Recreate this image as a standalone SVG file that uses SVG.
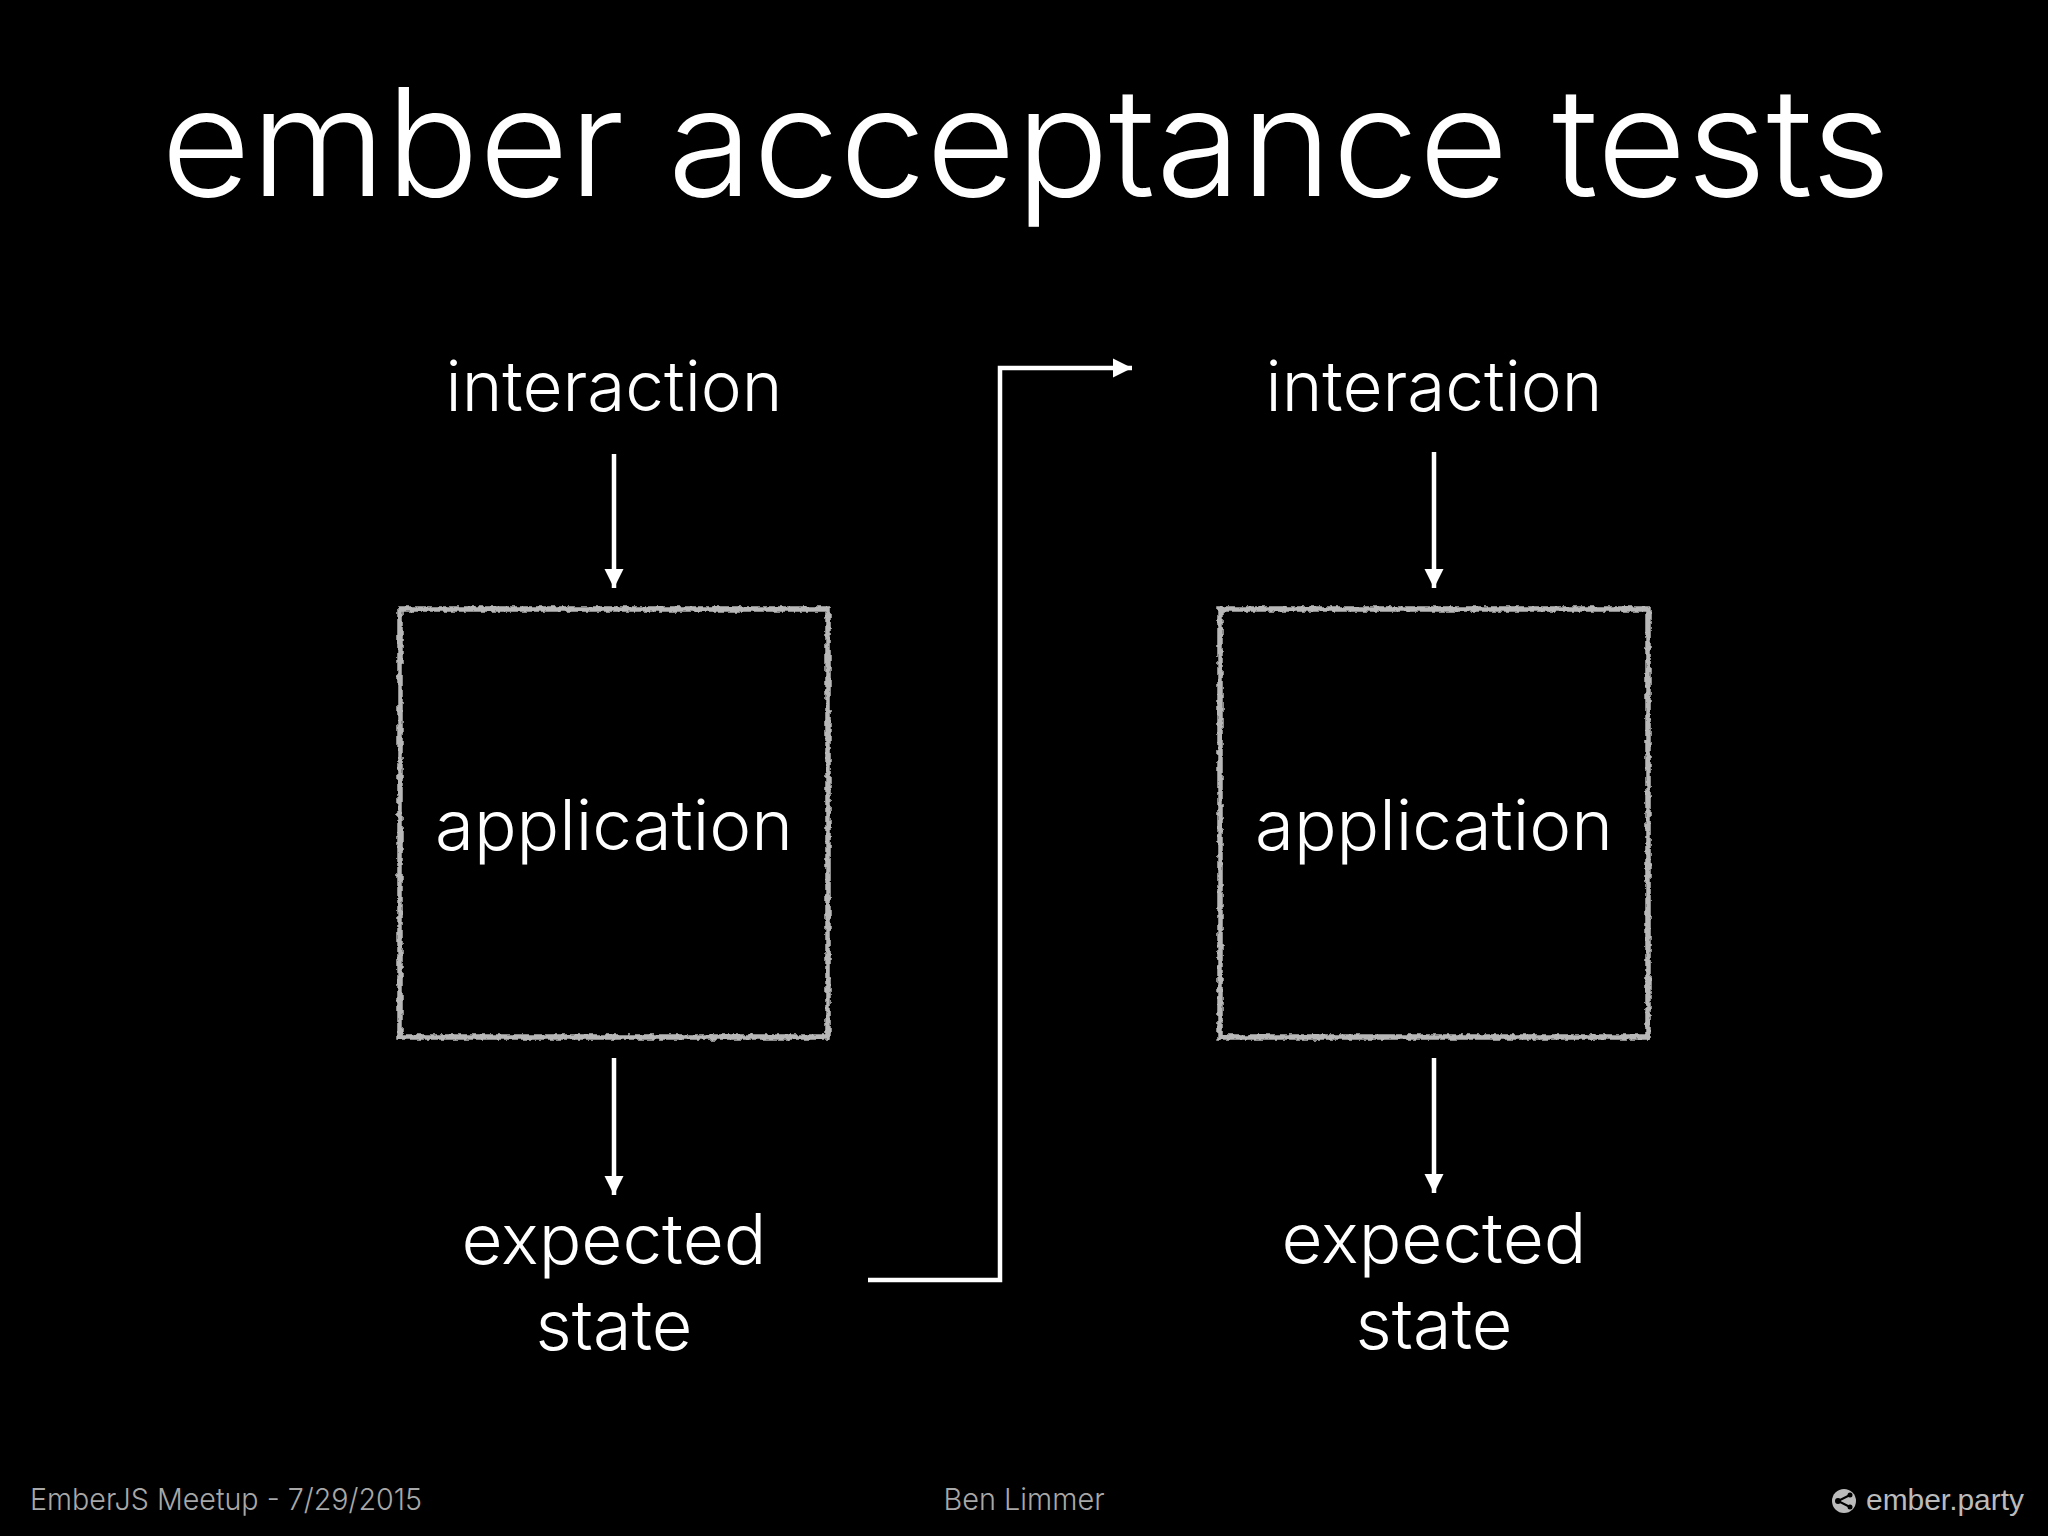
<svg xmlns="http://www.w3.org/2000/svg" width="2048" height="1536" viewBox="0 0 2048 1536">
<style>
text{font-family:"Inter","Liberation Sans",sans-serif;font-weight:300;fill:#fff;text-anchor:middle}
.l{font-size:70px}
.f{font-size:30px;fill:#a8a8a8}
.box{fill:none;stroke:#b8b8b8;stroke-width:5.5;filter:url(#rough)}
.c{fill:none;stroke:#fff;stroke-width:4.5}
</style>
<defs>
<filter id="rough" x="-5%" y="-5%" width="110%" height="110%"><feTurbulence type="fractalNoise" baseFrequency="0.18" numOctaves="2" seed="4"/><feDisplacementMap in="SourceGraphic" scale="5" xChannelSelector="R" yChannelSelector="G"/></filter>
<marker id="a" markerUnits="userSpaceOnUse" markerWidth="20" markerHeight="20" refX="19" refY="10" orient="auto"><path d="M0 0.5L19 10L0 19.5z" fill="#fff"/></marker>
</defs>
<rect width="2048" height="1536" fill="#000"/>
<g id="title"><text x="1026" y="196" font-size="150" textLength="1730" lengthAdjust="spacingAndGlyphs">ember acceptance tests</text></g>
<g id="connectors">
<path class="c" marker-end="url(#a)" d="M614 454V588"/>
<path class="c" marker-end="url(#a)" d="M614 1058V1195"/>
<path class="c" marker-end="url(#a)" d="M1434 452V588"/>
<path class="c" marker-end="url(#a)" d="M1434 1058V1193"/>
<path class="c" marker-end="url(#a)" d="M868 1280H1000V368H1132"/>
</g>
<g id="interaction-1"><text class="l" x="614" y="411" textLength="337" lengthAdjust="spacingAndGlyphs">interaction</text></g>
<g id="application-1"><rect class="box" x="400" y="609" width="428" height="428"/><text class="l" x="614" y="850" textLength="358" lengthAdjust="spacingAndGlyphs">application</text></g>
<g id="state-1"><text class="l" x="614" y="1264" textLength="305" lengthAdjust="spacingAndGlyphs">expected</text><text class="l" x="614" y="1350" textLength="157" lengthAdjust="spacingAndGlyphs">state</text></g>
<g id="interaction-2"><text class="l" x="1434" y="411" textLength="337" lengthAdjust="spacingAndGlyphs">interaction</text></g>
<g id="application-2"><rect class="box" x="1220" y="609" width="428" height="428"/><text class="l" x="1434" y="850" textLength="358" lengthAdjust="spacingAndGlyphs">application</text></g>
<g id="state-2"><text class="l" x="1434" y="1263" textLength="305" lengthAdjust="spacingAndGlyphs">expected</text><text class="l" x="1434" y="1349" textLength="157" lengthAdjust="spacingAndGlyphs">state</text></g>
<g id="footer">
<text class="f" x="30" y="1510" style="text-anchor:start" textLength="392" lengthAdjust="spacingAndGlyphs">EmberJS Meetup - 7/29/2015</text>
<text class="f" x="1024" y="1510" textLength="161" lengthAdjust="spacingAndGlyphs">Ben Limmer</text>
<text class="f" x="1866" y="1510" style="text-anchor:start;fill:#bbb;font-family:'Liberation Sans',sans-serif;font-weight:400" textLength="158" lengthAdjust="spacingAndGlyphs">ember.party</text>
<circle cx="1844" cy="1501" r="12" fill="#bbb"/>
<path d="M1850 1495L1838 1501L1850 1507" fill="none" stroke="#000" stroke-width="2"/>
<circle cx="1838" cy="1501" r="3" fill="#000"/><circle cx="1850" cy="1495" r="2.5" fill="#000"/><circle cx="1850" cy="1507" r="2.5" fill="#000"/>
</g>
</svg>
